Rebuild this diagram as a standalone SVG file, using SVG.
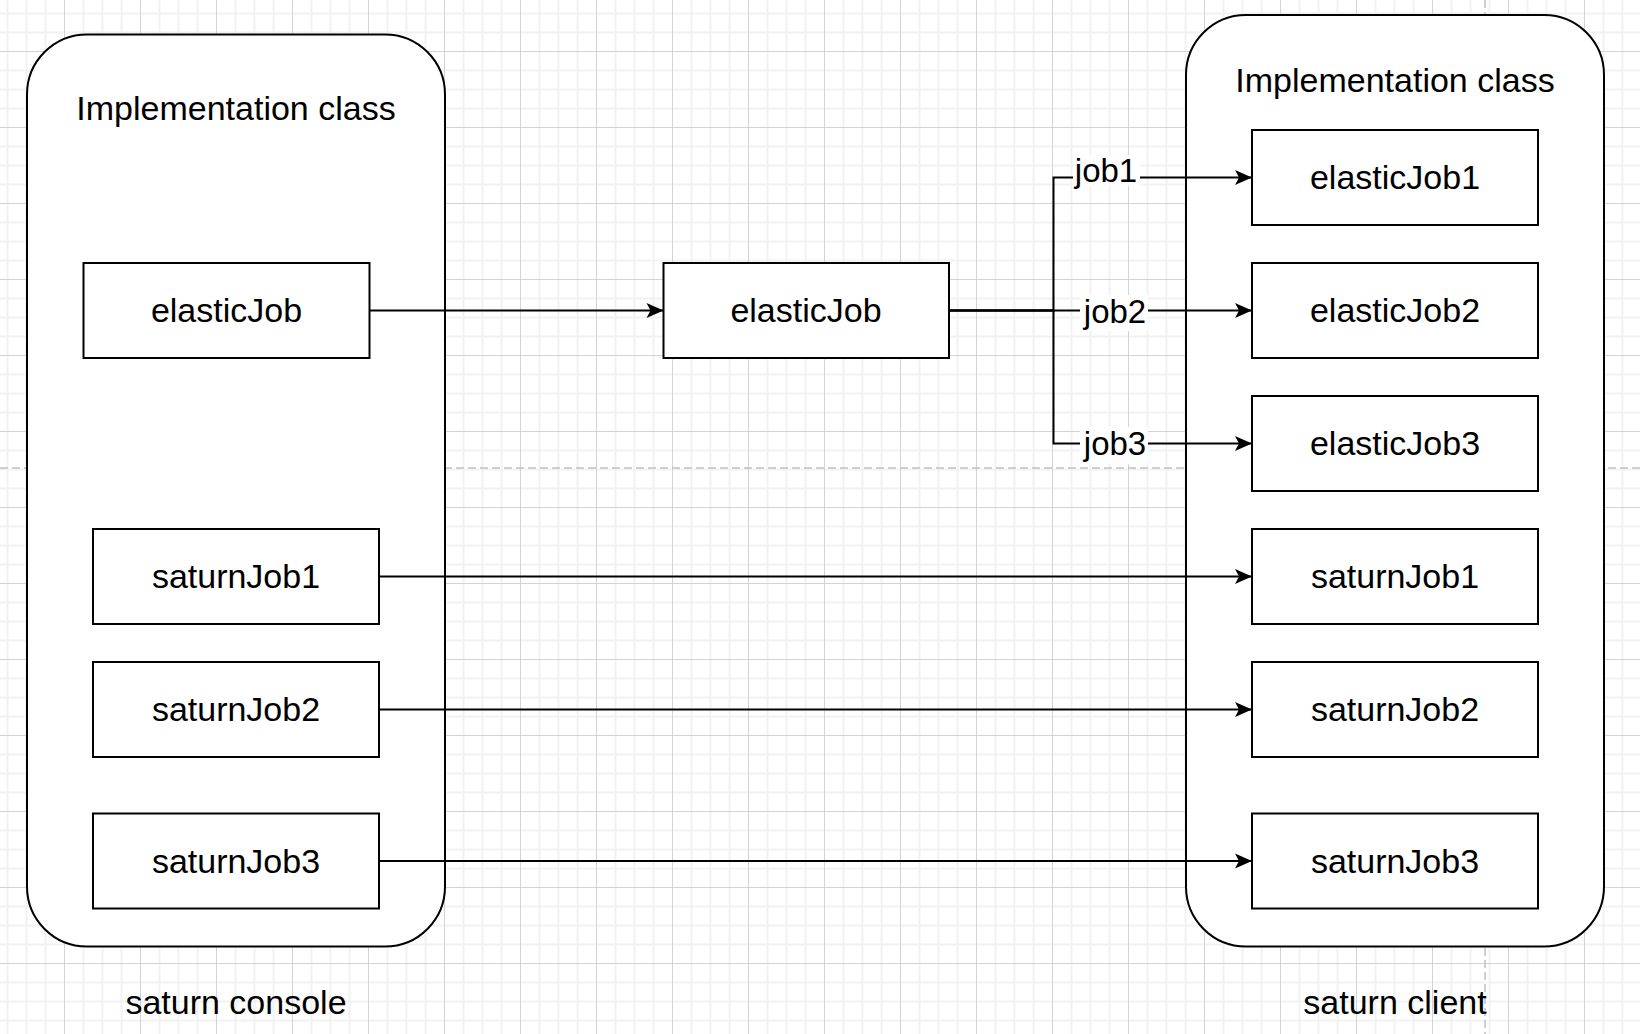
<svg xmlns="http://www.w3.org/2000/svg" width="1640" height="1034" viewBox="0 0 1640 1034">
  <defs>
    <pattern id="grid" patternUnits="userSpaceOnUse" x="64" y="51" width="76" height="76">
      <rect x="0" y="0" width="76" height="76" fill="#ffffff"/>
      <rect x="18.5" y="0" width="2" height="76" fill="#f2f2f2"/>
      <rect x="37.5" y="0" width="2" height="76" fill="#f2f2f2"/>
      <rect x="56.5" y="0" width="2" height="76" fill="#f2f2f2"/>
      <rect x="0" y="18.5" width="76" height="2" fill="#f2f2f2"/>
      <rect x="0" y="37.5" width="76" height="2" fill="#f2f2f2"/>
      <rect x="0" y="56.5" width="76" height="2" fill="#f2f2f2"/>
      <rect x="0" y="0" width="1" height="76" fill="#d3d3d3"/>
      <rect x="0" y="0" width="76" height="1" fill="#d3d3d3"/>
    </pattern>
    <marker id="arrow" markerUnits="userSpaceOnUse" markerWidth="20" markerHeight="18" refX="18" refY="9" orient="auto" viewBox="0 0 20 18">
      <path d="M18,9 L1,1.5 L5,9 L1,16.5 Z" fill="#000000"/>
    </marker>
  </defs>
  <style>
    .container { fill: #ffffff; stroke: #000000; stroke-width: 2; }
    .box { fill: #ffffff; stroke: #000000; stroke-width: 2; }
    .txt { font-family: "Liberation Sans", Arial, Helvetica, sans-serif; font-size: 34px; fill: #000000; text-anchor: middle; }
    .title { font-family: "Liberation Sans", Arial, Helvetica, sans-serif; font-size: 34px; fill: #000000; text-anchor: middle; }
    .lbl { font-family: "Liberation Sans", Arial, Helvetica, sans-serif; font-size: 33px; fill: #000000; text-anchor: middle; }
    .edge { fill: none; stroke: #000000; stroke-width: 2; }
    .page { fill: none; stroke: #c0c0c0; stroke-width: 1.5; stroke-dasharray: 8 4; }
    .lblbg { fill: #ffffff; }
  </style>

  <rect x="0" y="0" width="1640" height="1034" fill="url(#grid)"/>

  <g id="page-breaks">
    <line class="page" x1="0" y1="468" x2="1640" y2="468"/>
    <line class="page" x1="1485" y1="0" x2="1485" y2="1034"/>
  </g>

  <g id="saturn-console">
    <rect class="container" x="27" y="34.5" width="418" height="912" rx="60" ry="60"/>
    <text class="title" x="236" y="120">Implementation class</text>
  </g>
  <g id="saturn-client">
    <rect class="container" x="1186" y="15" width="418" height="931.5" rx="60" ry="60"/>
    <text class="title" x="1395" y="91.5">Implementation class</text>
  </g>

  <g id="console-elasticJob">
    <rect class="box" x="83.5" y="263" width="286" height="95"/>
    <text class="txt" x="226.5" y="322">elasticJob</text>
  </g>
  <g id="console-saturnJob1">
    <rect class="box" x="93" y="529" width="286" height="95"/>
    <text class="txt" x="236" y="588">saturnJob1</text>
  </g>
  <g id="console-saturnJob2">
    <rect class="box" x="93" y="662" width="286" height="95"/>
    <text class="txt" x="236" y="721">saturnJob2</text>
  </g>
  <g id="console-saturnJob3">
    <rect class="box" x="93" y="813.5" width="286" height="95"/>
    <text class="txt" x="236" y="872.5">saturnJob3</text>
  </g>

  <g id="middle-elasticJob">
    <rect class="box" x="663.5" y="263" width="285.5" height="95"/>
    <text class="txt" x="806" y="322">elasticJob</text>
  </g>

  <g id="client-elasticJob1">
    <rect class="box" x="1252" y="130" width="286" height="95"/>
    <text class="txt" x="1395" y="189">elasticJob1</text>
  </g>
  <g id="client-elasticJob2">
    <rect class="box" x="1252" y="263" width="286" height="95"/>
    <text class="txt" x="1395" y="322">elasticJob2</text>
  </g>
  <g id="client-elasticJob3">
    <rect class="box" x="1252" y="396" width="286" height="95"/>
    <text class="txt" x="1395" y="455">elasticJob3</text>
  </g>
  <g id="client-saturnJob1">
    <rect class="box" x="1252" y="529" width="286" height="95"/>
    <text class="txt" x="1395" y="588">saturnJob1</text>
  </g>
  <g id="client-saturnJob2">
    <rect class="box" x="1252" y="662" width="286" height="95"/>
    <text class="txt" x="1395" y="721">saturnJob2</text>
  </g>
  <g id="client-saturnJob3">
    <rect class="box" x="1252" y="813.5" width="286" height="95"/>
    <text class="txt" x="1395" y="872.5">saturnJob3</text>
  </g>

  <g id="connectors">
    <path class="edge" d="M369.5,310.5 L663.5,310.5" marker-end="url(#arrow)"/>
    <path class="edge" d="M949,310.5 L1053.5,310.5 L1053.5,177.5 L1252,177.5" marker-end="url(#arrow)"/>
    <path class="edge" d="M949,310.5 L1252,310.5" marker-end="url(#arrow)"/>
    <path class="edge" d="M949,310.5 L1053.5,310.5 L1053.5,443.5 L1252,443.5" marker-end="url(#arrow)"/>
    <path class="edge" d="M379,576.5 L1252,576.5" marker-end="url(#arrow)"/>
    <path class="edge" d="M379,709.5 L1252,709.5" marker-end="url(#arrow)"/>
    <path class="edge" d="M379,861 L1252,861" marker-end="url(#arrow)"/>
    <rect class="lblbg" x="1073" y="155" width="67" height="31"/>
    <text class="lbl" x="1106" y="181.5">job1</text>
    <rect class="lblbg" x="1080" y="295" width="68" height="36"/>
    <text class="lbl" x="1115" y="322.5">job2</text>
    <rect class="lblbg" x="1080" y="427" width="68" height="37"/>
    <text class="lbl" x="1115" y="455">job3</text>
  </g>

  <text class="title" x="236" y="1014">saturn console</text>
  <text class="title" x="1395" y="1014">saturn client</text>
</svg>
